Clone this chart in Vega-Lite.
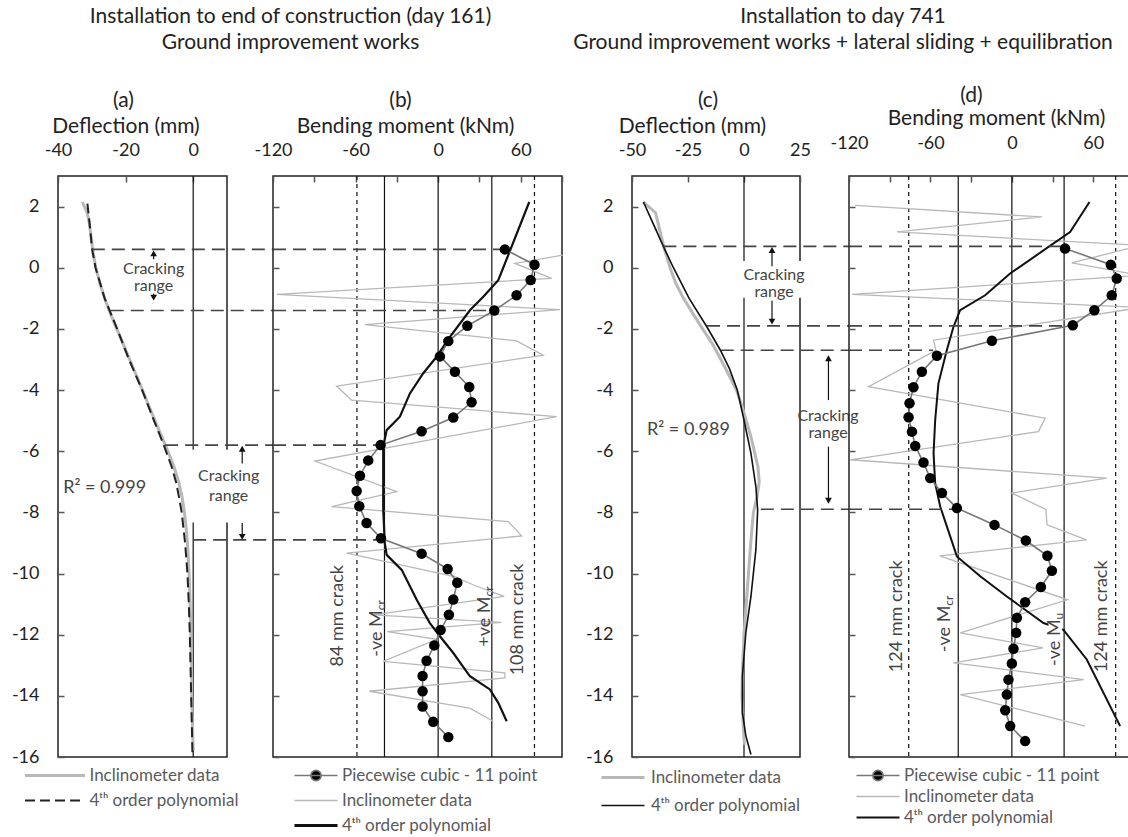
{
"$schema": "https://vega.github.io/schema/vega-lite/v6.json",
"padding": {"left": 10, "top": 6, "right": 0, "bottom": 0},
"background": "white",
"config": {
  "font": "Lato",
  "view": {"stroke": "#222", "strokeWidth": 1.5},
  "axis": {"labelFont": "Lato", "titleFont": "Lato", "titleFontWeight": "normal", "titleFontSize": 21, "titleColor": "#222", "labelFontSize": 18, "labelColor": "#222", "tickColor": "#555", "tickWidth": 1.5, "grid": false, "domain": false, "labelFlush": false, "labelOverlap": false},
  "title": {"font": "Lato", "fontWeight": "normal", "fontSize": 21, "color": "#222"},
  "legend": {"labelFont": "Lato", "labelFontSize": 17, "labelColor": "#5a5a5a", "padding": 0, "labelLimit": 400}
},
"datasets": {
  "ln": [
    {"p":"a","s":"I","d":2.15,"v":-32.8},{"p":"a","s":"I","d":1.8,"v":-31.4},{"p":"a","s":"I","d":1.5,"v":-30.8},{"p":"a","s":"I","d":1.0,"v":-30.2},{"p":"a","s":"I","d":0.5,"v":-29.6},{"p":"a","s":"I","d":0,"v":-28.8},{"p":"a","s":"I","d":-0.5,"v":-27.6},{"p":"a","s":"I","d":-1.0,"v":-26.2},{"p":"a","s":"I","d":-1.5,"v":-24.5},{"p":"a","s":"I","d":-2.0,"v":-22.6},{"p":"a","s":"I","d":-2.5,"v":-20.7},{"p":"a","s":"I","d":-3.0,"v":-18.8},{"p":"a","s":"I","d":-3.5,"v":-16.9},{"p":"a","s":"I","d":-4.0,"v":-15.0},{"p":"a","s":"I","d":-4.5,"v":-13.2},{"p":"a","s":"I","d":-5.0,"v":-11.3},{"p":"a","s":"I","d":-5.5,"v":-9.4},{"p":"a","s":"I","d":-6.0,"v":-7.5},{"p":"a","s":"I","d":-6.5,"v":-5.7},{"p":"a","s":"I","d":-7.0,"v":-4.3},{"p":"a","s":"I","d":-7.5,"v":-3.3},{"p":"a","s":"I","d":-8.0,"v":-2.6},{"p":"a","s":"I","d":-8.5,"v":-2.1},{"p":"a","s":"I","d":-9.0,"v":-1.7},{"p":"a","s":"I","d":-10,"v":-1.2},{"p":"a","s":"I","d":-11,"v":-0.9},{"p":"a","s":"I","d":-12,"v":-0.7},{"p":"a","s":"I","d":-13,"v":-0.5},{"p":"a","s":"I","d":-14,"v":-0.4},{"p":"a","s":"I","d":-15,"v":-0.2},{"p":"a","s":"I","d":-15.8,"v":0},
    {"p":"a","s":"P","d":2.1,"v":-31.3},{"p":"a","s":"P","d":1.5,"v":-30.7},{"p":"a","s":"P","d":0.6,"v":-29.9},{"p":"a","s":"P","d":0,"v":-28.9},{"p":"a","s":"P","d":-1,"v":-26.2},{"p":"a","s":"P","d":-2,"v":-22.5},{"p":"a","s":"P","d":-3,"v":-19.0},{"p":"a","s":"P","d":-4,"v":-15.1},{"p":"a","s":"P","d":-5,"v":-11.6},{"p":"a","s":"P","d":-5.8,"v":-8.7},{"p":"a","s":"P","d":-6.5,"v":-6.4},{"p":"a","s":"P","d":-7,"v":-5.1},{"p":"a","s":"P","d":-7.5,"v":-4.2},{"p":"a","s":"P","d":-8,"v":-3.4},{"p":"a","s":"P","d":-9,"v":-2.4},{"p":"a","s":"P","d":-10,"v":-1.7},{"p":"a","s":"P","d":-11,"v":-1.3},{"p":"a","s":"P","d":-12,"v":-1.0},{"p":"a","s":"P","d":-14,"v":-0.6},{"p":"a","s":"P","d":-16,"v":-0.2},
    {"p":"b","s":"I","d":0.41,"v":90.5},{"p":"b","s":"I","d":0.14,"v":55.8},{"p":"b","s":"I","d":-0.35,"v":82.5},{"p":"b","s":"I","d":-0.87,"v":-117.4},{"p":"b","s":"I","d":-1.37,"v":88.5},{"p":"b","s":"I","d":-1.86,"v":-53.2},{"p":"b","s":"I","d":-2.39,"v":57},{"p":"b","s":"I","d":-2.86,"v":76.4},{"p":"b","s":"I","d":-3.87,"v":-73.8},{"p":"b","s":"I","d":-4.33,"v":-62.9},{"p":"b","s":"I","d":-4.87,"v":86.1},{"p":"b","s":"I","d":-6.32,"v":-89.5},{"p":"b","s":"I","d":-7.32,"v":-30.2},{"p":"b","s":"I","d":-7.81,"v":-77.4},{"p":"b","s":"I","d":-8.3,"v":51},{"p":"b","s":"I","d":-8.77,"v":60.7},{"p":"b","s":"I","d":-9.33,"v":-66.5},{"p":"b","s":"I","d":-10.1,"v":12},{"p":"b","s":"I","d":-10.4,"v":27},{"p":"b","s":"I","d":-10.75,"v":48},{"p":"b","s":"I","d":-11.35,"v":-47},{"p":"b","s":"I","d":-11.6,"v":46},{"p":"b","s":"I","d":-11.9,"v":-37},{"p":"b","s":"I","d":-12.15,"v":-1},{"p":"b","s":"I","d":-12.87,"v":-40},{"p":"b","s":"I","d":-13.25,"v":48.5},{"p":"b","s":"I","d":-13.41,"v":48.5},{"p":"b","s":"I","d":-13.85,"v":-50},{"p":"b","s":"I","d":-14.4,"v":23},{"p":"b","s":"I","d":-14.83,"v":40},
    {"p":"b","s":"P","d":2.15,"v":66.2},{"p":"b","s":"P","d":-0.41,"v":43.7},{"p":"b","s":"P","d":-0.95,"v":32.8},{"p":"b","s":"P","d":-1.39,"v":23.1},{"p":"b","s":"P","d":-2.26,"v":8.6},{"p":"b","s":"P","d":-2.91,"v":-1.1},{"p":"b","s":"P","d":-3.45,"v":-10.8},{"p":"b","s":"P","d":-4.11,"v":-20.5},{"p":"b","s":"P","d":-4.87,"v":-27.8},{"p":"b","s":"P","d":-5.31,"v":-37.4},{"p":"b","s":"P","d":-5.85,"v":-39.9},{"p":"b","s":"P","d":-7.9,"v":-39.9},{"p":"b","s":"P","d":-9.0,"v":-38.8},{"p":"b","s":"P","d":-9.39,"v":-37.4},{"p":"b","s":"P","d":-9.88,"v":-26.5},{"p":"b","s":"P","d":-10.86,"v":-15.6},{"p":"b","s":"P","d":-11.62,"v":-6},{"p":"b","s":"P","d":-12.05,"v":1.3},{"p":"b","s":"P","d":-12.6,"v":11},{"p":"b","s":"P","d":-13.36,"v":23.1},{"p":"b","s":"P","d":-13.79,"v":37.6},{"p":"b","s":"P","d":-14.23,"v":43.7},{"p":"b","s":"P","d":-14.83,"v":49.8},
    {"p":"b","s":"W","d":0.6,"v":48.5},{"p":"b","s":"W","d":0.1,"v":70},{"p":"b","s":"W","d":-0.4,"v":67.2},{"p":"b","s":"W","d":-0.9,"v":57},{"p":"b","s":"W","d":-1.4,"v":40.8},{"p":"b","s":"W","d":-1.9,"v":21.2},{"p":"b","s":"W","d":-2.4,"v":7.4},{"p":"b","s":"W","d":-2.9,"v":1.3},{"p":"b","s":"W","d":-3.4,"v":12.2},{"p":"b","s":"W","d":-3.9,"v":22.6},{"p":"b","s":"W","d":-4.4,"v":24.3},{"p":"b","s":"W","d":-4.9,"v":11},{"p":"b","s":"W","d":-5.35,"v":-12},{"p":"b","s":"W","d":-5.8,"v":-41.8},{"p":"b","s":"W","d":-6.3,"v":-50.8},{"p":"b","s":"W","d":-6.8,"v":-56.8},{"p":"b","s":"W","d":-7.3,"v":-59.2},{"p":"b","s":"W","d":-7.8,"v":-57.3},{"p":"b","s":"W","d":-8.35,"v":-52},{"p":"b","s":"W","d":-8.85,"v":-41.6},{"p":"b","s":"W","d":-9.35,"v":-12},{"p":"b","s":"W","d":-9.85,"v":6.9},{"p":"b","s":"W","d":-10.3,"v":13.9},{"p":"b","s":"W","d":-10.85,"v":11},{"p":"b","s":"W","d":-11.35,"v":7.8},{"p":"b","s":"W","d":-11.85,"v":1.8},{"p":"b","s":"W","d":-12.35,"v":-2.8},{"p":"b","s":"W","d":-12.85,"v":-8.4},{"p":"b","s":"W","d":-13.35,"v":-11.3},{"p":"b","s":"W","d":-13.85,"v":-11.3},{"p":"b","s":"W","d":-14.35,"v":-11.3},{"p":"b","s":"W","d":-14.85,"v":-3.6},{"p":"b","s":"W","d":-15.35,"v":7.4},
    {"p":"c","s":"I","d":2.15,"v":-45},{"p":"c","s":"I","d":1.8,"v":-39.5},{"p":"c","s":"I","d":1.2,"v":-37.5},{"p":"c","s":"I","d":0.6,"v":-35.5},{"p":"c","s":"I","d":0,"v":-33},{"p":"c","s":"I","d":-0.5,"v":-30.5},{"p":"c","s":"I","d":-1.0,"v":-27},{"p":"c","s":"I","d":-1.5,"v":-22.8},{"p":"c","s":"I","d":-2.0,"v":-18.5},{"p":"c","s":"I","d":-2.5,"v":-14},{"p":"c","s":"I","d":-3.0,"v":-10.3},{"p":"c","s":"I","d":-3.5,"v":-6.8},{"p":"c","s":"I","d":-4.0,"v":-3.4},{"p":"c","s":"I","d":-4.5,"v":-1},{"p":"c","s":"I","d":-5.0,"v":1},{"p":"c","s":"I","d":-5.5,"v":3},{"p":"c","s":"I","d":-6.0,"v":4.6},{"p":"c","s":"I","d":-6.5,"v":6.2},{"p":"c","s":"I","d":-7.0,"v":6.8},{"p":"c","s":"I","d":-7.5,"v":5.8},{"p":"c","s":"I","d":-8.0,"v":4.2},{"p":"c","s":"I","d":-9.0,"v":3},{"p":"c","s":"I","d":-10,"v":2},{"p":"c","s":"I","d":-11,"v":1},{"p":"c","s":"I","d":-12,"v":0},{"p":"c","s":"I","d":-13,"v":-0.6},{"p":"c","s":"I","d":-14,"v":-0.9},{"p":"c","s":"I","d":-15,"v":-0.3},{"p":"c","s":"I","d":-15.6,"v":0.2},
    {"p":"c","s":"P","d":2.15,"v":-44.9},{"p":"c","s":"P","d":1.5,"v":-40.9},{"p":"c","s":"P","d":0.68,"v":-35.9},{"p":"c","s":"P","d":0,"v":-31.5},{"p":"c","s":"P","d":-1.0,"v":-24.5},{"p":"c","s":"P","d":-1.93,"v":-16.6},{"p":"c","s":"P","d":-2.69,"v":-10.6},{"p":"c","s":"P","d":-3.3,"v":-6.5},{"p":"c","s":"P","d":-4.0,"v":-3.0},{"p":"c","s":"P","d":-4.98,"v":0},{"p":"c","s":"P","d":-6.07,"v":3.1},{"p":"c","s":"P","d":-7.16,"v":5.3},{"p":"c","s":"P","d":-7.92,"v":6.1},{"p":"c","s":"P","d":-9.22,"v":5.3},{"p":"c","s":"P","d":-10.75,"v":3.1},{"p":"c","s":"P","d":-11.94,"v":0.8},{"p":"c","s":"P","d":-13.36,"v":-0.7},{"p":"c","s":"P","d":-14.55,"v":-0.7},{"p":"c","s":"P","d":-15.3,"v":0.8},{"p":"c","s":"P","d":-15.92,"v":3.1},
    {"p":"d","s":"I","d":2.04,"v":-115.5},{"p":"d","s":"I","d":1.66,"v":22.1},{"p":"d","s":"I","d":1.17,"v":-84.7},{"p":"d","s":"I","d":0.73,"v":95},{"p":"d","s":"I","d":0.16,"v":44.2},{"p":"d","s":"I","d":-0.25,"v":95},{"p":"d","s":"I","d":-0.87,"v":-117.8},{"p":"d","s":"I","d":-1.3,"v":95},{"p":"d","s":"I","d":-2.37,"v":-57.7},{"p":"d","s":"I","d":-2.7,"v":-56},{"p":"d","s":"I","d":-3.89,"v":-105.6},{"p":"d","s":"I","d":-4.92,"v":24.5},{"p":"d","s":"I","d":-5.36,"v":19.6},{"p":"d","s":"I","d":-6.28,"v":-119},{"p":"d","s":"I","d":-6.88,"v":69.9},{"p":"d","s":"I","d":-7.37,"v":0},{"p":"d","s":"I","d":-7.9,"v":25},{"p":"d","s":"I","d":-8.41,"v":26},{"p":"d","s":"I","d":-8.9,"v":55},{"p":"d","s":"I","d":-9.42,"v":-53},{"p":"d","s":"I","d":-10.86,"v":41},{"p":"d","s":"I","d":-11.13,"v":21},{"p":"d","s":"I","d":-11.94,"v":-38},{"p":"d","s":"I","d":-12.43,"v":23},{"p":"d","s":"I","d":-12.92,"v":-43},{"p":"d","s":"I","d":-13.47,"v":53},{"p":"d","s":"I","d":-13.96,"v":-38},{"p":"d","s":"I","d":-14.99,"v":54},
    {"p":"d","s":"P","d":2.15,"v":57.2},{"p":"d","s":"P","d":1.17,"v":42.9},{"p":"d","s":"P","d":0.68,"v":27},{"p":"d","s":"P","d":-0.19,"v":-1.3},{"p":"d","s":"P","d":-0.9,"v":-19.7},{"p":"d","s":"P","d":-1.39,"v":-38.1},{"p":"d","s":"P","d":-1.93,"v":-43},{"p":"d","s":"P","d":-2.69,"v":-47.9},{"p":"d","s":"P","d":-3.78,"v":-54.1},{"p":"d","s":"P","d":-4.98,"v":-56.5},{"p":"d","s":"P","d":-6.07,"v":-57.7},{"p":"d","s":"P","d":-7.05,"v":-56.5},{"p":"d","s":"P","d":-7.81,"v":-52.8},{"p":"d","s":"P","d":-8.46,"v":-47.9},{"p":"d","s":"P","d":-9.44,"v":-40.5},{"p":"d","s":"P","d":-10.09,"v":-23.3},{"p":"d","s":"P","d":-10.75,"v":-3.7},{"p":"d","s":"P","d":-11.62,"v":23.3},{"p":"d","s":"P","d":-11.84,"v":38},{"p":"d","s":"P","d":-12.81,"v":55.2},{"p":"d","s":"P","d":-14.99,"v":79.8},
    {"p":"d","s":"W","d":0.63,"v":39.2},{"p":"d","s":"W","d":0.1,"v":72.9},{"p":"d","s":"W","d":-0.35,"v":77.3},{"p":"d","s":"W","d":-0.9,"v":73.6},{"p":"d","s":"W","d":-1.39,"v":60.8},{"p":"d","s":"W","d":-1.88,"v":44.9},{"p":"d","s":"W","d":-2.39,"v":-14.7},{"p":"d","s":"W","d":-2.88,"v":-55.2},{"p":"d","s":"W","d":-3.4,"v":-66.3},{"p":"d","s":"W","d":-3.91,"v":-72.5},{"p":"d","s":"W","d":-4.43,"v":-75.4},{"p":"d","s":"W","d":-4.89,"v":-76.1},{"p":"d","s":"W","d":-5.36,"v":-73.6},{"p":"d","s":"W","d":-5.83,"v":-71.2},{"p":"d","s":"W","d":-6.37,"v":-65.1},{"p":"d","s":"W","d":-6.88,"v":-60.2},{"p":"d","s":"W","d":-7.37,"v":-51.5},{"p":"d","s":"W","d":-7.86,"v":-40.5},{"p":"d","s":"W","d":-8.41,"v":-12.8},{"p":"d","s":"W","d":-8.92,"v":10.3},{"p":"d","s":"W","d":-9.42,"v":26.2},{"p":"d","s":"W","d":-9.91,"v":29.5},{"p":"d","s":"W","d":-10.44,"v":21.4},{"p":"d","s":"W","d":-10.94,"v":9.8},{"p":"d","s":"W","d":-11.45,"v":3.7},{"p":"d","s":"W","d":-11.94,"v":3.2},{"p":"d","s":"W","d":-12.46,"v":1.2},{"p":"d","s":"W","d":-12.94,"v":0},{"p":"d","s":"W","d":-13.47,"v":-2.5},{"p":"d","s":"W","d":-13.96,"v":-3.7},{"p":"d","s":"W","d":-14.47,"v":-4.9},{"p":"d","s":"W","d":-14.99,"v":-1.2},{"p":"d","s":"W","d":-15.48,"v":9.8}
  ],
  "vr": [
    {"p":"a","k":"s","v":0,"d":3,"d2":-16},
    {"p":"b","k":"d","v":-59,"d":3,"d2":-16},{"p":"b","k":"s","v":-39,"d":3,"d2":-16},{"p":"b","k":"s","v":0,"d":3,"d2":-16},{"p":"b","k":"s","v":39,"d":3,"d2":-16},{"p":"b","k":"d","v":70,"d":3,"d2":-16},
    {"p":"c","k":"s","v":0,"d":3,"d2":-16},
    {"p":"d","k":"d","v":-76,"d":3,"d2":-16},{"p":"d","k":"s","v":-39.5,"d":3,"d2":-16},{"p":"d","k":"s","v":0,"d":3,"d2":-16},{"p":"d","k":"s","v":38.5,"d":3,"d2":-16},{"p":"d","k":"d","v":76.5,"d":3,"d2":-16}
  ],
  "hr": [
    {"p":"a","d":0.6,"v":-30,"v2":23.9},{"p":"a","d":-1.4,"v":-24.4,"v2":23.9},{"p":"a","d":-5.8,"v":-8.3,"v2":23.9},{"p":"a","d":-8.9,"v":0,"v2":23.9},
    {"p":"b","d":0.6,"v":-120,"v2":45},{"p":"b","d":-1.4,"v":-120,"v2":37.6},{"p":"b","d":-5.8,"v":-120,"v2":-44.5},{"p":"b","d":-8.9,"v":-120,"v2":-45},
    {"p":"c","d":0.7,"v":-36,"v2":47.6},{"p":"c","d":-1.9,"v":-16.5,"v2":47.6},{"p":"c","d":-2.7,"v":-10.4,"v2":47.6},{"p":"c","d":-7.9,"v":7.5,"v2":47.6},
    {"p":"d","d":0.7,"v":-120,"v2":36},{"p":"d","d":-1.9,"v":-120,"v2":43},{"p":"d","d":-2.7,"v":-120,"v2":-58},{"p":"d","d":-7.9,"v":-120,"v2":-42}
  ],
  "bx": [
    {"p":"a","v":-0.8,"v2":23.9,"d":-5.95,"d2":-8.33},
    {"p":"c","v":-3.5,"v2":34,"d":0.22,"d2":-0.98},
    {"p":"c","v":25.5,"v2":48,"d":-4.5,"d2":-5.7},
    {"p":"d","v":27,"v2":37,"d":-11.3,"d2":-12.6}
  ],
  "tx": [
    {"p":"a","v":-11.7,"d":-0.05,"t":"Cracking"},{"p":"a","v":-11.7,"d":-0.6,"t":"range"},
    {"p":"a","v":10.5,"d":-6.8,"t":"Cracking"},{"p":"a","v":10.5,"d":-7.45,"t":"range"},
    {"p":"c","v":13.4,"d":-0.25,"t":"Cracking"},{"p":"c","v":13.4,"d":-0.8,"t":"range"},
    {"p":"c","v":37.5,"d":-4.85,"t":"Cracking"},{"p":"c","v":37.5,"d":-5.4,"t":"range"}
  ],
  "rq": [
    {"p":"a","v":-26.2,"d":-7.2,"t":"R² = 0.999"},
    {"p":"c","v":-24.8,"d":-5.3,"t":"R² = 0.989"}
  ],
  "vt": [
    {"p":"b","v":-72.8,"d":-11.38,"t":"84 mm crack"},{"p":"b","v":58,"d":-11.5,"t":"108 mm crack"},
    {"p":"d","v":-84.5,"d":-11.4,"t":"124 mm crack"},{"p":"d","v":66.5,"d":-11.4,"t":"124 mm crack"}
  ],
  "mt": [
    {"p":"b","v":-44.5,"d":-11.2,"t":"-ve M","u":"cr"},{"p":"b","v":34,"d":-10.75,"t":"+ve M","u":"cr"},
    {"p":"d","v":-49,"d":-11.05,"t":"-ve M","u":"cr"},{"p":"d","v":32,"d":-11.5,"t":"-ve M","u":"u"}
  ],
  "ar": [
    {"p":"a","v":-11.7,"d":0.28,"d2":0.5},{"p":"a","v":-11.7,"d":-0.85,"d2":-1.0},
    {"p":"a","v":14.5,"d":-6.4,"d2":-5.95},{"p":"a","v":14.5,"d":-8.35,"d2":-8.8},
    {"p":"c","v":12.5,"d":0.05,"d2":0.6},{"p":"c","v":12.5,"d":-1.08,"d2":-1.75},
    {"p":"c","v":37.7,"d":-4.33,"d2":-2.95},{"p":"c","v":37.7,"d":-5.85,"d2":-7.62}
  ],
  "ah": [
    {"p":"a","v":-11.7,"d":0.47,"dir":"up"},{"p":"a","v":-11.7,"d":-0.98,"dir":"down"},
    {"p":"a","v":14.5,"d":-5.92,"dir":"up"},{"p":"a","v":14.5,"d":-8.8,"dir":"down"},
    {"p":"c","v":12.5,"d":0.58,"dir":"up"},{"p":"c","v":12.5,"d":-1.76,"dir":"down"},
    {"p":"c","v":37.7,"d":-2.96,"dir":"up"},{"p":"c","v":37.7,"d":-7.62,"dir":"down"}
  ],
  "none": []
},
"spacing": 0,
"bounds": "flush",
"resolve": {"scale": {"x": "independent", "y": "independent", "color": "independent"}},
"hconcat": [
   {
    "width": 169, "height": 581,
    "title": {"text": "(a)", "dx": -19, "offset": 4, "frame": "group", "anchor": "middle"},
    "layer": [
     {"data": {"name": "vr"}, "transform": [{"filter": "datum.p == 'a' && datum.k == 's'"}],
      "mark": {"type": "rule", "color": "#111", "strokeWidth": 1.2},
      "encoding": {
       "x": {"field": "v", "type": "quantitative", "scale": {"domain": [-40, 10], "nice": false, "zero": false},
             "axis": {"orient": "top", "values": [-40, -30, -20, -10, 0, 10], "labelExpr": "datum.value % 20 == 0 ? '' + datum.value : ''", "title": "Deflection (mm)", "titleX": 67.5, "titleY": -50, "titleBaseline": "middle", "tickSize": -6, "labelPadding": 32, "labelBaseline": "middle"}},
       "y": {"field": "d", "type": "quantitative", "scale": {"domain": [-16, 3], "nice": false, "zero": false},
             "axis": {"values": [-16,-15,-14,-13,-12,-11,-10,-9,-8,-7,-6,-5,-4,-3,-2,-1,0,1,2,3], "labelExpr": "datum.value % 2 == 0 && datum.value < 3 ? '' + datum.value : ''", "title": null, "tickSize": -6, "labelPadding": 25, "labelBaseline": "middle"}},
       "y2": {"field": "d2"}}},
     {"data": {"name": "ln"}, "transform": [{"filter": "datum.p == 'a' && datum.s == 'I'"}],
      "mark": {"type": "line", "strokeWidth": 3},
      "encoding": {"x": {"field": "v", "type": "quantitative"}, "y": {"field": "d", "type": "quantitative"}, "order": {"field": "d", "sort": "descending"},
       "color": {"field": "s", "type": "nominal", "scale": {"domain": ["I", "P"], "range": ["#b8b8b8", "#222222"]},
        "legend": {"orient": "none", "legendX": -32.5, "legendY": 591, "title": null, "direction": "vertical", "symbolType": "stroke", "symbolSize": 3600, "symbolOffset": 21, "labelOffset": 26, "rowPadding": 7,
         "labelExpr": "datum.label == 'I' ? 'Inclinometer data' : '4ᵗʰ order polynomial'",
         "encode": {"symbols": {"update": {"strokeWidth": {"signal": "datum.value == 'I' ? 3 : 2"}, "strokeDash": {"signal": "datum.value == 'I' ? [1,0] : [10,5]"}}}}}}}},
     {"data": {"name": "ln"}, "transform": [{"filter": "datum.p == 'a' && datum.s == 'P'"}],
      "mark": {"type": "line", "strokeWidth": 2, "color": "#222", "strokeDash": [10, 5]},
      "encoding": {"x": {"field": "v", "type": "quantitative"}, "y": {"field": "d", "type": "quantitative"}, "order": {"field": "d", "sort": "descending"}}},
     {"data": {"name": "bx"}, "transform": [{"filter": "datum.p == 'a'"}],
      "mark": {"type": "rect", "fill": "white", "strokeWidth": 0},
      "encoding": {"x": {"field": "v", "type": "quantitative"}, "x2": {"field": "v2"}, "y": {"field": "d", "type": "quantitative"}, "y2": {"field": "d2"}}},
     {"data": {"name": "hr"}, "transform": [{"filter": "datum.p == 'a'"}],
      "mark": {"type": "rule", "color": "#444", "strokeWidth": 1.6, "strokeDash": [13, 7]},
      "encoding": {"y": {"field": "d", "type": "quantitative"}, "x": {"field": "v", "type": "quantitative"}, "x2": {"field": "v2"}}},
     {"data": {"name": "tx"}, "transform": [{"filter": "datum.p == 'a'"}],
      "mark": {"type": "text", "fontSize": 16, "color": "#444", "align": "center", "baseline": "middle"},
      "encoding": {"x": {"field": "v", "type": "quantitative"}, "y": {"field": "d", "type": "quantitative"}, "text": {"field": "t"}}},
     {"data": {"name": "rq"}, "transform": [{"filter": "datum.p == 'a'"}],
      "mark": {"type": "text", "fontSize": 18, "color": "#444", "align": "center", "baseline": "middle"},
      "encoding": {"x": {"field": "v", "type": "quantitative"}, "y": {"field": "d", "type": "quantitative"}, "text": {"field": "t"}}},
     {"data": {"name": "ar"}, "transform": [{"filter": "datum.p == 'a'"}],
      "mark": {"type": "rule", "color": "#111", "strokeWidth": 1.2},
      "encoding": {"x": {"field": "v", "type": "quantitative"}, "y": {"field": "d", "type": "quantitative"}, "y2": {"field": "d2"}}},
     {"data": {"name": "ah"}, "transform": [{"filter": "datum.p == 'a'"}],
      "mark": {"type": "point", "filled": true, "color": "#111", "opacity": 1, "size": 45},
      "encoding": {"x": {"field": "v", "type": "quantitative"}, "y": {"field": "d", "type": "quantitative"},
       "shape": {"field": "dir", "type": "nominal", "scale": {"domain": ["up", "down"], "range": ["triangle-up", "triangle-down"]}, "legend": null}}}
    ]
   },
   {
    "width": 46, "height": 581, "view": {"stroke": null},
    "title": {"text": ["Installation to end of construction (day 161)", "Ground improvement works"], "lineHeight": 26, "dx": 40.5, "anchor": "middle", "frame": "group", "offset": 123},
    "data": {"name": "none"}, "mark": {"type": "point", "opacity": 0}
   },
   {
    "width": 289, "height": 581,
    "title": {"text": "(b)", "dx": -17, "offset": 4, "frame": "group", "anchor": "middle"},
    "layer": [
     {"data": {"name": "vr"}, "transform": [{"filter": "datum.p == 'b' && datum.k == 's'"}],
      "mark": {"type": "rule", "color": "#111", "strokeWidth": 1.2},
      "encoding": {
       "x": {"field": "v", "type": "quantitative", "scale": {"domain": [-120, 90], "nice": false, "zero": false},
             "axis": {"orient": "top", "values": [-120, -90, -60, -30, 0, 30, 60, 90], "labelExpr": "datum.value % 60 == 0 ? '' + datum.value : ''", "title": "Bending moment (kNm)", "titleX": 132, "titleY": -50, "titleBaseline": "middle", "tickSize": -6, "labelPadding": 32, "labelBaseline": "middle"}},
       "y": {"field": "d", "type": "quantitative", "scale": {"domain": [-16, 3], "nice": false, "zero": false},
             "axis": {"values": [-16,-15,-14,-13,-12,-11,-10,-9,-8,-7,-6,-5,-4,-3,-2,-1,0,1,2,3], "labels": false, "title": null, "tickSize": -6}},
       "y2": {"field": "d2"}}},
     {"data": {"name": "vr"}, "transform": [{"filter": "datum.p == 'b' && datum.k == 'd'"}],
      "mark": {"type": "rule", "color": "#111", "strokeWidth": 1.2, "strokeDash": [4, 4]},
      "encoding": {"x": {"field": "v", "type": "quantitative"}, "y": {"field": "d", "type": "quantitative"}, "y2": {"field": "d2"}}},
     {"data": {"name": "ln"}, "transform": [{"filter": "datum.p == 'b' && datum.s == 'I'"}],
      "mark": {"type": "line", "strokeWidth": 1.3},
      "encoding": {"x": {"field": "v", "type": "quantitative"}, "y": {"field": "d", "type": "quantitative"}, "order": {"field": "d", "sort": "descending"},
       "color": {"field": "s", "type": "nominal", "scale": {"domain": ["W", "I", "P"], "range": ["#777777", "#b8b8b8", "#111111"]},
        "legend": {"orient": "none", "legendX": 22, "legendY": 591, "title": null, "direction": "vertical", "symbolType": "stroke", "symbolSize": 1850, "symbolOffset": 12.5, "labelOffset": 17.5, "rowPadding": 7,
         "labelExpr": "datum.label == 'I' ? 'Inclinometer data' : datum.label == 'P' ? '4ᵗʰ order polynomial' : 'Piecewise cubic - 11 point'",
         "encode": {"symbols": {"update": {
           "strokeWidth": {"signal": "datum.value == 'I' ? 1.3 : datum.value == 'P' ? 3 : 1.6"},
           "shape": {"signal": "datum.value == 'W' ? 'M-1,0H1M-0.24,0A0.24,0.24,0,1,0,0.24,0A0.24,0.24,0,1,0,-0.24,0' : 'stroke'"},
           "fill": {"signal": "datum.value == 'W' ? '#000' : 'transparent'"}}}}}}}},
     {"data": {"name": "ln"}, "transform": [{"filter": "datum.p == 'b' && datum.s == 'P'"}],
      "mark": {"type": "line", "strokeWidth": 2.2, "color": "#111"},
      "encoding": {"x": {"field": "v", "type": "quantitative"}, "y": {"field": "d", "type": "quantitative"}, "order": {"field": "d", "sort": "descending"}}},
     {"data": {"name": "ln"}, "transform": [{"filter": "datum.p == 'b' && datum.s == 'W'"}],
      "mark": {"type": "line", "strokeWidth": 1.6, "color": "#777"},
      "encoding": {"x": {"field": "v", "type": "quantitative"}, "y": {"field": "d", "type": "quantitative"}, "order": {"field": "d", "sort": "descending"}}},
     {"data": {"name": "hr"}, "transform": [{"filter": "datum.p == 'b'"}],
      "mark": {"type": "rule", "color": "#444", "strokeWidth": 1.6, "strokeDash": [13, 7]},
      "encoding": {"y": {"field": "d", "type": "quantitative"}, "x": {"field": "v", "type": "quantitative"}, "x2": {"field": "v2"}}},
     {"data": {"name": "ln"}, "transform": [{"filter": "datum.p == 'b' && datum.s == 'W'"}],
      "mark": {"type": "point", "filled": true, "color": "#000", "opacity": 1, "size": 110, "shape": "circle"},
      "encoding": {"x": {"field": "v", "type": "quantitative"}, "y": {"field": "d", "type": "quantitative"}}},
     {"data": {"name": "vt"}, "transform": [{"filter": "datum.p == 'b'"}],
      "mark": {"type": "text", "fontSize": 18, "color": "#444", "angle": 270, "align": "center", "baseline": "middle"},
      "encoding": {"x": {"field": "v", "type": "quantitative"}, "y": {"field": "d", "type": "quantitative"}, "text": {"field": "t"}}},
     {"data": {"name": "mt"}, "transform": [{"filter": "datum.p == 'b'"}],
      "mark": {"type": "text", "fontSize": 18, "color": "#444", "angle": 270, "align": "right", "baseline": "middle"},
      "encoding": {"x": {"field": "v", "type": "quantitative"}, "y": {"field": "d", "type": "quantitative"}, "text": {"field": "t"}}},
     {"data": {"name": "mt"}, "transform": [{"filter": "datum.p == 'b'"}],
      "mark": {"type": "text", "fontSize": 12, "color": "#444", "angle": 270, "align": "left", "baseline": "middle", "dy": 4},
      "encoding": {"x": {"field": "v", "type": "quantitative"}, "y": {"field": "d", "type": "quantitative"}, "text": {"field": "u"}}}
    ]
   },
   {
    "width": 70, "height": 581, "view": {"stroke": null},
    "data": {"name": "none"}, "mark": {"type": "point", "opacity": 0}
   },
   {
    "width": 168, "height": 581,
    "title": {"text": "(c)", "dx": -8, "offset": 4, "frame": "group", "anchor": "middle"},
    "layer": [
     {"data": {"name": "vr"}, "transform": [{"filter": "datum.p == 'c' && datum.k == 's'"}],
      "mark": {"type": "rule", "color": "#111", "strokeWidth": 1.2},
      "encoding": {
       "x": {"field": "v", "type": "quantitative", "scale": {"domain": [-50, 25], "nice": false, "zero": false},
             "axis": {"orient": "top", "values": [-50, -37.5, -25, -12.5, 0, 12.5, 25], "labelExpr": "datum.value % 25 == 0 ? '' + datum.value : ''", "title": "Deflection (mm)", "titleX": 60, "titleY": -50, "titleBaseline": "middle", "tickSize": -6, "labelPadding": 32, "labelBaseline": "middle"}},
       "y": {"field": "d", "type": "quantitative", "scale": {"domain": [-16, 3], "nice": false, "zero": false},
             "axis": {"values": [-16,-15,-14,-13,-12,-11,-10,-9,-8,-7,-6,-5,-4,-3,-2,-1,0,1,2,3], "labelExpr": "datum.value % 2 == 0 && datum.value < 3 ? '' + datum.value : ''", "title": null, "tickSize": -6, "labelPadding": 25, "labelBaseline": "middle"}},
       "y2": {"field": "d2"}}},
     {"data": {"name": "ln"}, "transform": [{"filter": "datum.p == 'c' && datum.s == 'I'"}],
      "mark": {"type": "line", "strokeWidth": 3},
      "encoding": {"x": {"field": "v", "type": "quantitative"}, "y": {"field": "d", "type": "quantitative"}, "order": {"field": "d", "sort": "descending"},
       "color": {"field": "s", "type": "nominal", "scale": {"domain": ["I", "P"], "range": ["#b8b8b8", "#111111"]},
        "legend": {"orient": "none", "legendX": -30, "legendY": 593, "title": null, "direction": "vertical", "symbolType": "stroke", "symbolSize": 1850, "symbolOffset": 12.5, "labelOffset": 19.5, "rowPadding": 10,
         "labelExpr": "datum.label == 'I' ? 'Inclinometer data' : '4ᵗʰ order polynomial'",
         "encode": {"symbols": {"update": {"strokeWidth": {"signal": "datum.value == 'I' ? 3 : 1.6"}}}}}}}},
     {"data": {"name": "ln"}, "transform": [{"filter": "datum.p == 'c' && datum.s == 'P'"}],
      "mark": {"type": "line", "strokeWidth": 1.6, "color": "#111"},
      "encoding": {"x": {"field": "v", "type": "quantitative"}, "y": {"field": "d", "type": "quantitative"}, "order": {"field": "d", "sort": "descending"}}},
     {"data": {"name": "bx"}, "transform": [{"filter": "datum.p == 'c'"}],
      "mark": {"type": "rect", "fill": "white", "strokeWidth": 0},
      "encoding": {"x": {"field": "v", "type": "quantitative"}, "x2": {"field": "v2"}, "y": {"field": "d", "type": "quantitative"}, "y2": {"field": "d2"}}},
     {"data": {"name": "hr"}, "transform": [{"filter": "datum.p == 'c'"}],
      "mark": {"type": "rule", "color": "#444", "strokeWidth": 1.6, "strokeDash": [13, 7]},
      "encoding": {"y": {"field": "d", "type": "quantitative"}, "x": {"field": "v", "type": "quantitative"}, "x2": {"field": "v2"}}},
     {"data": {"name": "tx"}, "transform": [{"filter": "datum.p == 'c'"}],
      "mark": {"type": "text", "fontSize": 16, "color": "#444", "align": "center", "baseline": "middle"},
      "encoding": {"x": {"field": "v", "type": "quantitative"}, "y": {"field": "d", "type": "quantitative"}, "text": {"field": "t"}}},
     {"data": {"name": "rq"}, "transform": [{"filter": "datum.p == 'c'"}],
      "mark": {"type": "text", "fontSize": 18, "color": "#444", "align": "center", "baseline": "middle"},
      "encoding": {"x": {"field": "v", "type": "quantitative"}, "y": {"field": "d", "type": "quantitative"}, "text": {"field": "t"}}},
     {"data": {"name": "ar"}, "transform": [{"filter": "datum.p == 'c'"}],
      "mark": {"type": "rule", "color": "#111", "strokeWidth": 1.2},
      "encoding": {"x": {"field": "v", "type": "quantitative"}, "y": {"field": "d", "type": "quantitative"}, "y2": {"field": "d2"}}},
     {"data": {"name": "ah"}, "transform": [{"filter": "datum.p == 'c'"}],
      "mark": {"type": "point", "filled": true, "color": "#111", "opacity": 1, "size": 45},
      "encoding": {"x": {"field": "v", "type": "quantitative"}, "y": {"field": "d", "type": "quantitative"},
       "shape": {"field": "dir", "type": "nominal", "scale": {"domain": ["up", "down"], "range": ["triangle-up", "triangle-down"]}, "legend": null}}}
    ]
   },
   {
    "width": 49, "height": 581, "view": {"stroke": null},
    "title": {"text": ["Installation to day 741", "Ground improvement works + lateral sliding + equilibration"], "lineHeight": 26, "dx": 18.5, "anchor": "middle", "frame": "group", "offset": 123},
    "data": {"name": "none"}, "mark": {"type": "point", "opacity": 0}
   },
   {
    "width": 285, "height": 581,
    "title": {"text": "(d)", "dx": -20, "dy": 3, "offset": 4, "frame": "group", "anchor": "middle"},
    "layer": [
     {"data": {"name": "vr"}, "transform": [{"filter": "datum.p == 'd' && datum.k == 's'"}],
      "mark": {"type": "rule", "color": "#111", "strokeWidth": 1.2},
      "encoding": {
       "x": {"field": "v", "type": "quantitative", "scale": {"domain": [-120, 90], "nice": false, "zero": false},
             "axis": {"orient": "top", "values": [-120, -90, -60, -30, 0, 30, 60, 90], "labelExpr": "datum.value % 60 == 0 ? '' + datum.value : ''", "title": "Bending moment (kNm)", "titleX": 147, "titleY": -58, "titleBaseline": "middle", "tickSize": -6, "labelPadding": 39, "labelBaseline": "middle"}},
       "y": {"field": "d", "type": "quantitative", "scale": {"domain": [-16, 3], "nice": false, "zero": false},
             "axis": {"values": [-16,-15,-14,-13,-12,-11,-10,-9,-8,-7,-6,-5,-4,-3,-2,-1,0,1,2,3], "labels": false, "title": null, "tickSize": -6}},
       "y2": {"field": "d2"}}},
     {"data": {"name": "vr"}, "transform": [{"filter": "datum.p == 'd' && datum.k == 'd'"}],
      "mark": {"type": "rule", "color": "#111", "strokeWidth": 1.2, "strokeDash": [4, 4]},
      "encoding": {"x": {"field": "v", "type": "quantitative"}, "y": {"field": "d", "type": "quantitative"}, "y2": {"field": "d2"}}},
     {"data": {"name": "ln"}, "transform": [{"filter": "datum.p == 'd' && datum.s == 'I'"}],
      "mark": {"type": "line", "strokeWidth": 1.3},
      "encoding": {"x": {"field": "v", "type": "quantitative"}, "y": {"field": "d", "type": "quantitative"}, "order": {"field": "d", "sort": "descending"},
       "color": {"field": "s", "type": "nominal", "scale": {"domain": ["W", "I", "P"], "range": ["#777777", "#b8b8b8", "#111111"]},
        "legend": {"orient": "none", "legendX": 8, "legendY": 591, "title": null, "direction": "vertical", "symbolType": "stroke", "symbolSize": 1850, "symbolOffset": 12.5, "labelOffset": 17.5, "rowPadding": 3,
         "labelExpr": "datum.label == 'I' ? 'Inclinometer data' : datum.label == 'P' ? '4ᵗʰ order polynomial' : 'Piecewise cubic - 11 point'",
         "encode": {"symbols": {"update": {
           "strokeWidth": {"signal": "datum.value == 'I' ? 1.3 : datum.value == 'P' ? 2 : 1.6"},
           "shape": {"signal": "datum.value == 'W' ? 'M-1,0H1M-0.24,0A0.24,0.24,0,1,0,0.24,0A0.24,0.24,0,1,0,-0.24,0' : 'stroke'"},
           "fill": {"signal": "datum.value == 'W' ? '#000' : 'transparent'"}}}}}}}},
     {"data": {"name": "ln"}, "transform": [{"filter": "datum.p == 'd' && datum.s == 'P'"}],
      "mark": {"type": "line", "strokeWidth": 2, "color": "#111"},
      "encoding": {"x": {"field": "v", "type": "quantitative"}, "y": {"field": "d", "type": "quantitative"}, "order": {"field": "d", "sort": "descending"}}},
     {"data": {"name": "ln"}, "transform": [{"filter": "datum.p == 'd' && datum.s == 'W'"}],
      "mark": {"type": "line", "strokeWidth": 1.6, "color": "#777"},
      "encoding": {"x": {"field": "v", "type": "quantitative"}, "y": {"field": "d", "type": "quantitative"}, "order": {"field": "d", "sort": "descending"}}},
     {"data": {"name": "bx"}, "transform": [{"filter": "datum.p == 'd'"}],
      "mark": {"type": "rect", "fill": "white", "strokeWidth": 0},
      "encoding": {"x": {"field": "v", "type": "quantitative"}, "x2": {"field": "v2"}, "y": {"field": "d", "type": "quantitative"}, "y2": {"field": "d2"}}},
     {"data": {"name": "hr"}, "transform": [{"filter": "datum.p == 'd'"}],
      "mark": {"type": "rule", "color": "#444", "strokeWidth": 1.6, "strokeDash": [13, 7]},
      "encoding": {"y": {"field": "d", "type": "quantitative"}, "x": {"field": "v", "type": "quantitative"}, "x2": {"field": "v2"}}},
     {"data": {"name": "ln"}, "transform": [{"filter": "datum.p == 'd' && datum.s == 'W'"}],
      "mark": {"type": "point", "filled": true, "color": "#000", "opacity": 1, "size": 110, "shape": "circle"},
      "encoding": {"x": {"field": "v", "type": "quantitative"}, "y": {"field": "d", "type": "quantitative"}}},
     {"data": {"name": "vt"}, "transform": [{"filter": "datum.p == 'd'"}],
      "mark": {"type": "text", "fontSize": 18, "color": "#444", "angle": 270, "align": "center", "baseline": "middle"},
      "encoding": {"x": {"field": "v", "type": "quantitative"}, "y": {"field": "d", "type": "quantitative"}, "text": {"field": "t"}}},
     {"data": {"name": "mt"}, "transform": [{"filter": "datum.p == 'd'"}],
      "mark": {"type": "text", "fontSize": 18, "color": "#444", "angle": 270, "align": "right", "baseline": "middle"},
      "encoding": {"x": {"field": "v", "type": "quantitative"}, "y": {"field": "d", "type": "quantitative"}, "text": {"field": "t"}}},
     {"data": {"name": "mt"}, "transform": [{"filter": "datum.p == 'd'"}],
      "mark": {"type": "text", "fontSize": 12, "color": "#444", "angle": 270, "align": "left", "baseline": "middle", "dy": 4},
      "encoding": {"x": {"field": "v", "type": "quantitative"}, "y": {"field": "d", "type": "quantitative"}, "text": {"field": "u"}}}
    ]
   }
]
}
